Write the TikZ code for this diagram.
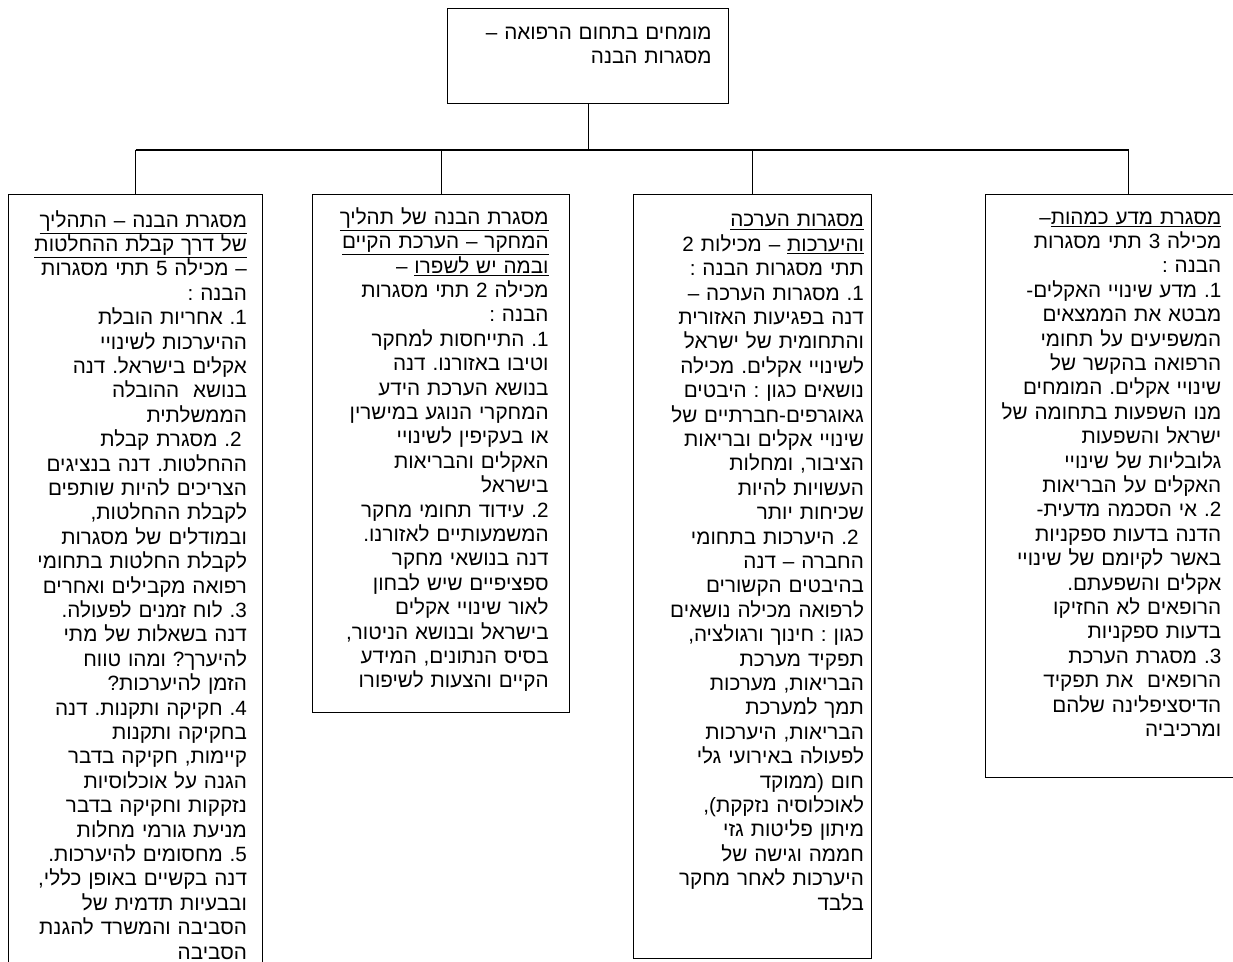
\documentclass[tikz,border=0pt]{standalone}
\usepackage{fontspec}
\newfontfamily\hebfont[Script=Hebrew]{Liberation Sans}
\TeXXeTstate=1
\frenchspacing
\usetikzlibrary{positioning}

\newcommand{\rl}[1]{\beginR #1\endR}
\newcommand{\undr}[1]{\underline{\beginR #1\endR}}
\newcommand{\itm}[1]{#1\kern0pt.}

\tikzset{
  frame/.style={draw, line width=0.9pt, inner sep=0pt, anchor=north west},
  body/.style={font=\hebfont\fontsize{15.5}{18.3}\selectfont, align=right,
    text width=200pt, inner sep=0pt},
  wire/.style={line width=0.9pt}
}

\begin{document}
\begin{tikzpicture}[x=0.75pt, y=-0.75pt]
    \useasboundingbox (0,0) rectangle (1233,962);

    \node [frame, minimum width=210.75pt, minimum height=71.25pt] (expert) at (447,8) {};
    \node [frame, minimum width=190.5pt, minimum height=604.5pt] (decide) at (8,194) {};
    \node [frame, minimum width=192.75pt, minimum height=388.5pt] (research) at (312,194) {};
    \node [frame, minimum width=178.5pt, minimum height=573pt] (assess) at (633,194) {};
    \node [frame, minimum width=214.5pt, minimum height=437.25pt] (science) at (985,194) {};

    \node [body, below left=14pt and 13pt of expert.north east] (expert text) {
      \rl{מומחים בתחום הרפואה –}\\
      \rl{מסגרות הבנה}};

    \node [body, below left=13pt and 12pt of science.north east, xshift=-26pt] (science text) {
      \rl{\undr{מסגרת מדע כמהות}–}\\
      \rl{מכילה 3 תתי מסגרות}\\
      \rl{הבנה :}\\
      \rl{\itm{1} מדע שינויי האקלים-}\\
      \rl{מבטא את הממצאים}\\
      \rl{המשפיעים על תחומי}\\
      \rl{הרפואה בהקשר של}\\
      \rl{שינויי אקלים. המומחים}\\
      \rl{מנו השפעות בתחומה של}\\
      \rl{ישראל והשפעות}\\
      \rl{גלובליות של שינויי}\\
      \rl{האקלים על הבריאות}\\
      \rl{\itm{2} אי הסכמה מדעית-}\\
      \rl{הדנה בדעות ספקניות}\\
      \rl{באשר לקיומם של שינויי}\\
      \rl{אקלים והשפעתם.}\\
      \rl{הרופאים לא החזיקו}\\
      \rl{בדעות ספקניות}\\
      \rl{\itm{3} מסגרת הערכת}\\
      \rl{הרופאים \ את תפקיד}\\
      \rl{הדיסציפלינה שלהם}\\
      \rl{ומרכיביה}};

    \node [body, below left=15pt and 6pt of assess.north east] (assess text) {
      \rl{\undr{מסגרות הערכה}}\\
      \rl{\undr{והיערכות} – מכילות 2}\\
      \rl{תתי מסגרות הבנה :}\\
      \rl{\itm{1} מסגרות הערכה –}\\
      \rl{דנה בפגיעות האזורית}\\
      \rl{והתחומית של ישראל}\\
      \rl{לשינויי אקלים. מכילה}\\
      \rl{נושאים כגון : היבטים}\\
      \rl{גאוגרפים-חברתיים של}\\
      \rl{שינויי אקלים ובריאות}\\
      \rl{הציבור, ומחלות}\\
      \rl{העשויות להיות}\\
      \rl{שכיחות יותר}\\
      \rl{\hspace*{4pt}\itm{2} היערכות בתחומי}\\
      \rl{החברה – דנה}\\
      \rl{בהיבטים הקשורים}\\
      \rl{לרפואה מכילה נושאים}\\
      \rl{כגון : חינוך ורגולציה,}\\
      \rl{תפקיד מערכת}\\
      \rl{הבריאות, מערכות}\\
      \rl{תמך למערכת}\\
      \rl{הבריאות, היערכות}\\
      \rl{לפעולה באירועי גלי}\\
      \rl{חום (ממוקד}\\
      \rl{לאוכלוסיה נזקקת),}\\
      \rl{מיתון פליטות גזי}\\
      \rl{חממה וגישה של}\\
      \rl{היערכות לאחר מחקר}\\
      \rl{בלבד}};

    \node [body, below left=10pt and 16pt of research.north east] (research text) {
      \rl{\undr{מסגרת הבנה של תהליך}}\\
      \rl{\undr{המחקר – הערכת הקיים}}\\
      \rl{\undr{ובמה יש לשפרו} –}\\
      \rl{מכילה 2 תתי מסגרות}\\
      \rl{הבנה :}\\
      \rl{\itm{1} התייחסות למחקר}\\
      \rl{וטיבו באזורנו. דנה}\\
      \rl{בנושא הערכת הידע}\\
      \rl{המחקרי הנוגע במישרין}\\
      \rl{או בעקיפין לשינויי}\\
      \rl{האקלים והבריאות}\\
      \rl{בישראל}\\
      \rl{\itm{2} עידוד תחומי מחקר}\\
      \rl{המשמעותיים לאזורנו.}\\
      \rl{דנה בנושאי מחקר}\\
      \rl{ספציפיים שיש לבחון}\\
      \rl{לאור שינויי אקלים}\\
      \rl{בישראל ובנושא הניטור,}\\
      \rl{בסיס הנתונים, המידע}\\
      \rl{הקיים והצעות לשיפורו}};

    \node [body, below left=12pt and 12pt of decide.north east] (decide text) {
      \rl{\undr{מסגרת הבנה – התהליך}}\\
      \rl{\undr{של דרך קבלת ההחלטות}}\\
      \rl{– מכילה 5 תתי מסגרות}\\
      \rl{הבנה :}\\
      \rl{\itm{1} אחריות הובלת}\\
      \rl{ההיערכות לשינויי}\\
      \rl{אקלים בישראל. דנה}\\
      \rl{בנושא \ ההובלה}\\
      \rl{הממשלתית}\\
      \rl{\hspace*{4pt}\itm{2} מסגרת קבלת}\\
      \rl{ההחלטות. דנה בנציגים}\\
      \rl{הצריכים להיות שותפים}\\
      \rl{לקבלת ההחלטות,}\\
      \rl{ובמודלים של מסגרות}\\
      \rl{לקבלת החלטות בתחומי}\\
      \rl{רפואה מקבילים ואחרים}\\
      \rl{\itm{3} לוח זמנים לפעולה.}\\
      \rl{דנה בשאלות של מתי}\\
      \rl{להיערך? ומהו טווח}\\
      \rl{הזמן להיערכות?}\\
      \rl{\itm{4} חקיקה ותקנות. דנה}\\
      \rl{בחקיקה ותקנות}\\
      \rl{קיימות, חקיקה בדבר}\\
      \rl{הגנה על אוכלוסיות}\\
      \rl{נזקקות וחקיקה בדבר}\\
      \rl{מניעת גורמי מחלות}\\
      \rl{\itm{5} מחסומים להיערכות.}\\
      \rl{דנה בקשיים באופן כללי,}\\
      \rl{ובבעיות תדמית של}\\
      \rl{הסביבה והמשרד להגנת}\\
      \rl{הסביבה}};

    \coordinate (bus) at (583,150);
    \draw [wire] (expert.south) -- (expert.south |- bus);
    \draw [wire] (decide.north |- bus) -- (science.north |- bus);
    \foreach \n in {decide, research, assess, science}
      \draw [wire] (\n.north |- bus) -- (\n.north);
\end{tikzpicture}
\end{document}
